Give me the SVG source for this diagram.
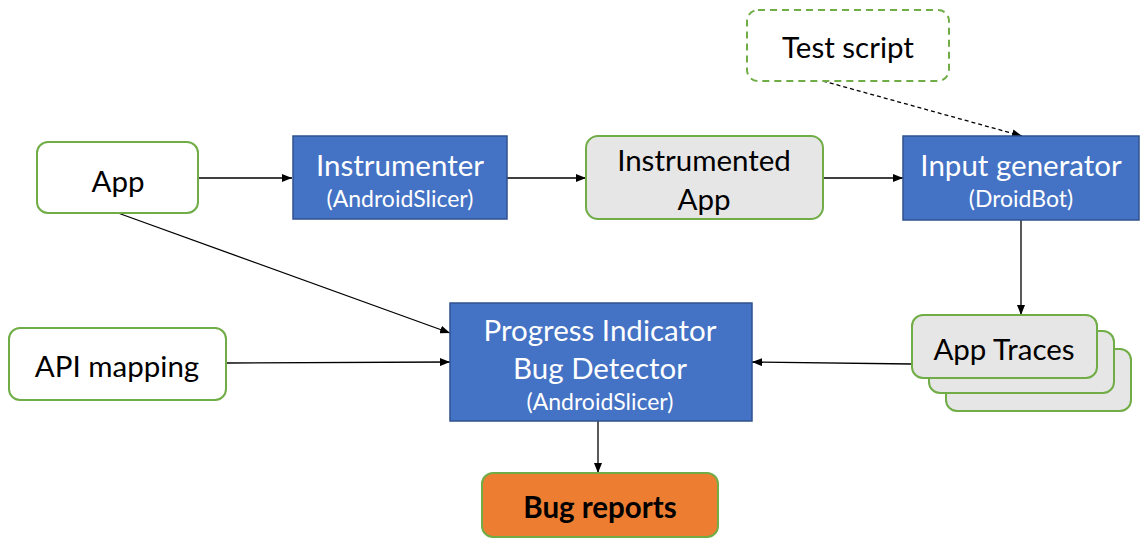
<svg xmlns="http://www.w3.org/2000/svg" width="1143" height="538" viewBox="0 0 1143 538">
  <defs>
    <marker id="arrow" markerWidth="10" markerHeight="8" refX="10" refY="4" orient="auto" markerUnits="userSpaceOnUse">
      <path d="M0,0 L10,4 L0,8 Z" fill="#000"/>
    </marker>
    <style>
      text { font-family: Lato, "Open Sans", sans-serif; text-anchor: middle; dominant-baseline: central; }
      .in { fill: #fff; stroke: #70AD47; stroke-width: 2; }
      .gray { fill: #E7E6E6; stroke: #70AD47; stroke-width: 2; }
      .tool { fill: #4472C4; stroke: #2F528F; stroke-width: 1.5; }
      .out { fill: #ED7D31; stroke: #70AD47; stroke-width: 2; }
      .dash { fill: #fff; stroke: #70AD47; stroke-width: 2; stroke-dasharray: 7 5; }
      .dark { fill: #000; font-size: 29.5px; }
      .light { fill: #fff; font-size: 29.5px; }
      .sub { fill: #fff; font-size: 23px; }
      .edge { stroke: #000; stroke-width: 1.3; fill: none; marker-end: url(#arrow); }
    </style>
  </defs>
  <rect width="1143" height="538" fill="#fff"/>

  <g id="connectors">
    <line class="edge" x1="198" y1="178" x2="292" y2="178"/>
    <line class="edge" x1="507" y1="178" x2="586" y2="178"/>
    <line class="edge" x1="823" y1="178" x2="903" y2="178"/>
    <line class="edge" x1="823" y1="81" x2="1022" y2="136" stroke-dasharray="4 3"/>
    <line class="edge" x1="1021" y1="220" x2="1021" y2="315"/>
    <line class="edge" x1="912" y1="364" x2="752" y2="362"/>
    <line class="edge" x1="118" y1="213" x2="450" y2="333"/>
    <line class="edge" x1="226" y1="363" x2="450" y2="362"/>
    <line class="edge" x1="598" y1="421" x2="598" y2="473"/>
  </g>

  <g id="app">
    <rect class="in" x="37" y="142" width="161" height="71" rx="11"/>
    <text class="dark" x="118" y="180">App</text>
  </g>

  <g id="instrumenter">
    <rect class="tool" x="293" y="136" width="214" height="83"/>
    <text class="light" x="400" y="164">Instrumenter</text>
    <text class="sub" x="400" y="198">(AndroidSlicer)</text>
  </g>

  <g id="instrumented-app">
    <rect class="gray" x="586" y="136" width="237" height="83" rx="12"/>
    <text class="dark" x="704" y="159">Instrumented</text>
    <text class="dark" x="704" y="198">App</text>
  </g>

  <g id="input-generator">
    <rect class="tool" x="903" y="136" width="236" height="84"/>
    <text class="light" x="1021" y="164">Input generator</text>
    <text class="sub" x="1021" y="198">(DroidBot)</text>
  </g>

  <g id="test-script">
    <rect class="dash" x="747" y="10" width="202" height="71" rx="11"/>
    <text class="dark" x="848" y="46">Test script</text>
  </g>

  <g id="api-mapping">
    <rect class="in" x="9" y="328" width="217" height="72" rx="11"/>
    <text class="dark" x="117" y="365">API mapping</text>
  </g>

  <g id="bug-detector">
    <rect class="tool" x="450" y="303" width="302" height="118"/>
    <text class="light" x="600" y="329">Progress Indicator</text>
    <text class="light" x="600" y="367">Bug Detector</text>
    <text class="sub" x="600" y="401">(AndroidSlicer)</text>
  </g>

  <g id="app-traces">
    <rect class="gray" x="946" y="349" width="185" height="62" rx="11"/>
    <rect class="gray" x="929" y="331" width="185" height="62" rx="11"/>
    <rect class="gray" x="912" y="315" width="185" height="63" rx="11"/>
    <text class="dark" x="1004" y="348">App Traces</text>
  </g>

  <g id="bug-reports">
    <rect class="out" x="482" y="473" width="236" height="64" rx="11"/>
    <text class="dark" x="600" y="506" font-weight="bold">Bug reports</text>
  </g>
</svg>
